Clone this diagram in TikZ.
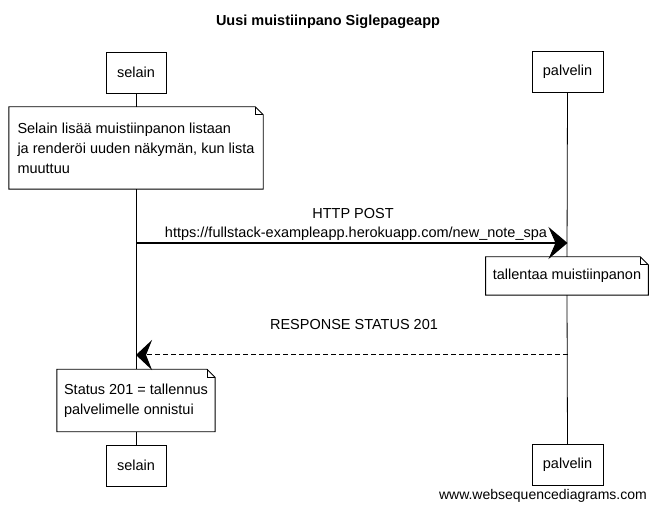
\documentclass[tikz,border=0pt]{standalone}
\usepackage{fontspec}
\setmainfont{Liberation Sans}
\usetikzlibrary{arrows.meta,calc}
\begin{document}
\begin{tikzpicture}[x=1pt,y=-1pt,
  every node/.style={font=\fontsize{14.5}{20}\selectfont},
  actor/.style={draw,line width=0.9pt,minimum height=41pt,inner sep=0pt},
  notebox/.style={align=left,inner xsep=7pt,inner ysep=0pt},
  lifeline/.style={line width=0.8pt},
  msg/.style={line width=1.1pt,-{Stealth[length=19pt,width=32pt,inset=7pt]}},
  reply/.style={line width=1pt,dash pattern=on 5pt off 3pt,-{Stealth[length=16pt,width=30pt,inset=6pt]}},
  lbl/.style={inner sep=0pt}]
\useasboundingbox (0,0) rectangle (656,510);
\fill[white] (0,0) rectangle (656,510);
% title
\node[lbl,font=\fontsize{14.5}{18}\bfseries] (title) at (328,22) {Uusi muistiinpano Siglepageapp};
% actors
\node[actor,minimum width=60pt] (selTop) at (136,72.5) {selain};
\node[actor,minimum width=71pt] (palTop) at (567.5,72) {palvelin};
\node[actor,minimum width=60pt] (selBot) at (136,465.5) {selain};
\node[actor,minimum width=71pt] (palBot) at (567.5,465) {palvelin};
% notes
\node[notebox,minimum width=254pt,minimum height=82pt] (note1) at (136,148) {Selain lisää muistiinpanon listaan\\ja renderöi uuden näkymän, kun lista\\muuttuu};
\node[notebox,minimum width=157pt,minimum height=38pt] (note2) at (567,276) {tallentaa muistiinpanon};
\node[notebox,minimum width=156pt,minimum height=62pt] (note3) at (136,400.5) {Status 201 = tallennus\\palvelimelle onnistui};
\foreach \n in {note1,note2,note3}{
  \draw[line width=0.9pt] (\n.north west) -- ([xshift=-8pt]\n.north east) -- ([yshift=-8pt]\n.north east) -- (\n.south east) -- (\n.south west) -- cycle;
  \draw[line width=0.6pt] ([xshift=-8pt]\n.north east) -- ([xshift=-8pt,yshift=-8pt]\n.north east) -- ([yshift=-8pt]\n.north east);
}
% lifelines
\draw[lifeline] (selTop.south) -- (note1.north);
\draw[lifeline] (note1.south) -- (note3.north);
\draw[lifeline] (note3.south) -- (selBot.north);
\draw[lifeline] (palTop.south) -- (note2.north);
\draw[lifeline] (note2.south) -- (palBot.north);
% messages
\coordinate (m1s) at (selTop.south |- 0,243);
\coordinate (m1e) at (palTop.south |- 0,243);
\draw[msg] (m1s) -- (m1e);
\node[lbl] (m1a) at (353,214) {HTTP POST};
\node[lbl] (m1b) at (356,234) {https://fullstack-exampleapp.herokuapp.com/new\_note\_spa};
\coordinate (m2s) at (palTop.south |- 0,355);
\coordinate (m2e) at (selTop.south |- 0,355);
\draw[reply] (m2s) -- (m2e);
\node[lbl] (m2a) at (354,325) {RESPONSE STATUS 201};
% watermark
\node[lbl,anchor=east,font=\fontsize{14}{16}\selectfont] (wm) at (647,496) {www.websequencediagrams.com};
\end{tikzpicture}
\end{document}
